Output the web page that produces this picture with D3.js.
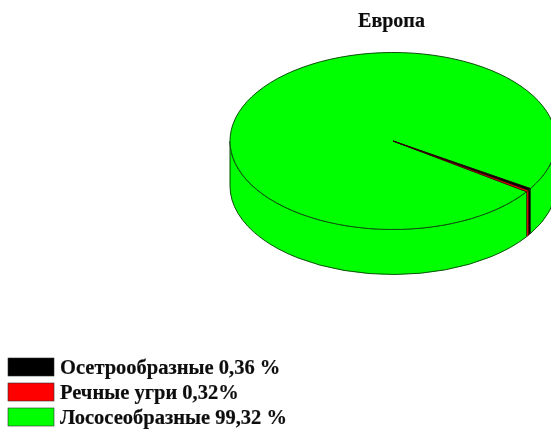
<!DOCTYPE html>
<html>
<head>
<meta charset="utf-8">
<script src="https://cdn.jsdelivr.net/npm/d3@7"></script>
<style>
  html, body { margin: 0; padding: 0; background: #fff; overflow: hidden; }
  text { font-family: "Liberation Serif", serif; font-weight: bold; fill: #111; stroke: #111; stroke-width: 0.2; }
  .edge { stroke: #0a4f0a; stroke-width: 1; vector-effect: non-scaling-stroke; stroke-linejoin: round; }
  .thin { stroke: #300000; stroke-width: 0.7; vector-effect: non-scaling-stroke; }
</style>
</head>
<body>
<div id="chart"></div>
<script>
//*********************** DATA ***********************
var title = "Европа";
var categories = ["Осетрообразные", "Речные угри", "Лососеобразные"];
var values = [0.36, 0.32, 99.32];
var labels = ["Осетрообразные 0,36 %", "Речные угри 0,32%", "Лососеобразные 99,32 %"];
var colors = ["#000000", "#ff0000", "#00ff00"];

//*********************** DECLARE VARIABLES ***********************
var width = 551,
    height = 430,
    cx = 393,
    cy = 141,
    rx = 163,
    ry = 88.5,
    depth = 45,
    squash = ry / rx,
    startAngle = 122.5 * Math.PI / 180;

var svg = d3.select("#chart").append("svg")
  .attr("width", width)
  .attr("height", height);

// the reference is a slightly soft scan
svg.append("defs").append("filter")
  .attr("id", "soft")
  .append("feGaussianBlur")
  .attr("stdDeviation", 0.45);

var root = svg.append("g").attr("filter", "url(#soft)");

//*********************** PIE ***********************
var pie = d3.pie()
  .sort(null)
  .startAngle(startAngle)
  .endAngle(startAngle + 2 * Math.PI)
  .value(function(d) { return d; });

var arc = d3.arc().innerRadius(0).outerRadius(rx);

var slices = pie(values);

var disc = root.append("g")
  .attr("transform", "translate(" + cx + "," + cy + ") scale(1," + squash + ")");

// front wall, only the parts of each slice facing the viewer
var front = [[Math.PI / 2, 3 * Math.PI / 2], [5 * Math.PI / 2, 7 * Math.PI / 2]];
var drop = depth / squash;

function wallPath(a0, a1) {
  var p = d3.path();
  p.arc(0, 0, rx, a0 - Math.PI / 2, a1 - Math.PI / 2, false);
  p.arc(0, drop, rx, a1 - Math.PI / 2, a0 - Math.PI / 2, true);
  p.closePath();
  return p.toString();
}

slices.forEach(function(s, i) {
  front.forEach(function(f) {
    var a0 = Math.max(s.startAngle, f[0]),
        a1 = Math.min(s.endAngle, f[1]);
    if (a1 > a0) {
      disc.append("path")
        .attr("class", i == 2 ? "edge" : "thin")
        .attr("d", wallPath(a0, a1))
        .attr("fill", colors[i]);
    }
  });
});

// top of the pie, green first so the thin slices stay dark on top of it
disc.selectAll(".top")
  .data([slices[2], slices[1], slices[0]])
  .enter()
  .append("path")
  .attr("class", function(d) { return d.index == 2 ? "top edge" : "top thin"; })
  .attr("d", arc)
  .attr("fill", function(d) { return colors[d.index]; });

//*********************** TITLE ***********************
root.append("text")
  .attr("x", 391.5)
  .attr("y", 27)
  .attr("text-anchor", "middle")
  .style("font-size", "20px")
  .text(title);

//*********************** LEGEND ***********************
var legendY = d3.scalePoint()
  .domain(categories)
  .range([358, 408]);

var legend = root.selectAll(".legend")
  .data(categories)
  .enter()
  .append("g")
  .attr("class", "legend")
  .attr("transform", function(d) { return "translate(8," + legendY(d) + ")"; });

legend.append("rect")
  .attr("width", 46)
  .attr("height", 18)
  .attr("stroke", "#333")
  .attr("stroke-width", 0.6)
  .attr("fill", function(d, i) { return colors[i]; });

legend.append("text")
  .attr("x", 52)
  .attr("y", 15.5)
  .style("font-size", "20.5px")
  .text(function(d, i) { return labels[i]; });
</script>
</body>
</html>
